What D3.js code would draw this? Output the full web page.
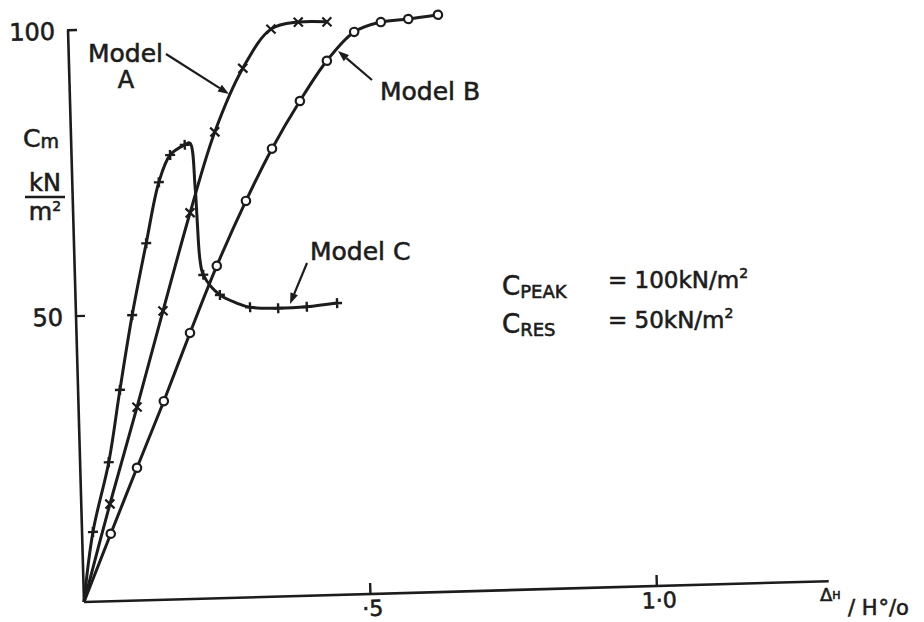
<!DOCTYPE html>
<html>
<head>
<meta charset="utf-8">
<script src="https://cdn.jsdelivr.net/npm/d3@7"></script>
<style>
  html, body { margin: 0; padding: 0; background: #fff; }
  text { font-family: "DejaVu Sans", sans-serif; fill: #1c1c1c; stroke: #1c1c1c; stroke-width: 0.6; }
</style>
</head>
<body>
<svg id="chart" width="924" height="622"></svg>
<script>
// ---- data ----
const xTicks = [0.5, 1.0];
const xTickLabels = ["·5", "1·0"];
const yTicks = [50, 100];
const yTickLabels = ["50", "100"];

// Model A (× markers)
const modelA_x = [0, 0.050, 0.102, 0.152, 0.204, 0.251, 0.303, 0.354, 0.402, 0.452];
const modelA_y = [0, 17.0, 33.8, 50.5, 67.5, 81.5, 92.5, 99.2, 100.3, 100.2];
const modelA_mark = [0, 1, 1, 1, 1, 1, 1, 1, 1, 1];

// Model B (○ markers)
const modelB_x = [0, 0.050, 0.099, 0.149, 0.198, 0.248, 0.302, 0.350, 0.401, 0.450, 0.499, 0.546, 0.594, 0.646];
const modelB_y = [0, 11.8, 23.2, 34.7, 46.5, 58.1, 69.3, 78.3, 86.5, 93.4, 98.3, 99.9, 100.3, 100.9];
const modelB_mark = [0, 1, 1, 1, 1, 1, 1, 1, 1, 1, 1, 1, 1, 1];

// Model C (+ markers)
const modelC_x = [0, 0.019, 0.050, 0.073, 0.098, 0.126, 0.151, 0.172, 0.198, 0.207, 0.214, 0.216, 0.219, 0.224, 0.252, 0.281, 0.304, 0.353, 0.403, 0.456];
const modelC_y = [0, 12.2, 24.3, 36.9, 49.9, 62.4, 73.0, 77.7, 79.4, 79.7, 72.0, 66.2, 59.2, 56.6, 53.0, 51.5, 50.7, 50.4, 50.5, 51.0];
const modelC_mark = [0, 1, 1, 1, 1, 1, 1, 1, 1, 0, 0, 0, 0, 1, 1, 0, 1, 1, 1, 1];

const seriesNames = ["Model A", "Model B", "Model C"];

// ---- drawing ----
const INK = "#1c1c1c";
const svg = d3.select("#chart");

// plot frame (the scan is slightly rotated)
const origin = [84, 602];
const tilt = -1.6;
const g = svg.append("g").attr("transform", `translate(${origin[0]},${origin[1]}) rotate(${tilt})`);

const x = d3.scaleLinear().domain([0, 1.30]).range([0, 745]);
const y = d3.scaleLinear().domain([0, 100]).range([0, -572]);

// axes
g.append("line").attr("x1", x(0)).attr("y1", 0).attr("x2", x(1.30)).attr("y2", 0)
  .attr("stroke", INK).attr("stroke-width", 2.6);
g.append("line").attr("x1", 0).attr("y1", y(0)).attr("x2", 0).attr("y2", y(100))
  .attr("stroke", INK).attr("stroke-width", 2.6);

xTicks.forEach((t, i) => {
  g.append("line").attr("x1", x(t)).attr("x2", x(t)).attr("y1", 0).attr("y2", -11)
    .attr("stroke", INK).attr("stroke-width", 2.4);
  g.append("text").attr("x", x(t) + 2).attr("y", 22).attr("text-anchor", "middle")
    .style("font-size", "22px").text(xTickLabels[i]);
});
yTicks.forEach((t, i) => {
  g.append("line").attr("x1", -1).attr("x2", 9).attr("y1", y(t)).attr("y2", y(t))
    .attr("stroke", INK).attr("stroke-width", 2.4);
  g.append("text").attr("x", -13).attr("y", y(t) + 9).attr("text-anchor", "end")
    .style("font-size", "24px").text(yTickLabels[i]);
});

// curves
const line = d3.line().x(d => x(d[0])).y(d => y(d[1])).curve(d3.curveCatmullRom.alpha(0.5));
function pts(xs, ys) { return xs.map((v, i) => [v, ys[i]]); }
const A = pts(modelA_x, modelA_y), B = pts(modelB_x, modelB_y), C = pts(modelC_x, modelC_y);

[A, B, C].forEach(p => {
  g.append("path").attr("d", line(p)).attr("fill", "none")
    .attr("stroke", INK).attr("stroke-width", 3).attr("stroke-linejoin", "round");
});

// markers
A.forEach((d, i) => {
  if (!modelA_mark[i]) return;
  const cx = x(d[0]), cy = y(d[1]), s = 4.5;
  g.append("path").attr("d", `M${cx - s},${cy - s}L${cx + s},${cy + s}M${cx - s},${cy + s}L${cx + s},${cy - s}`)
    .attr("stroke", INK).attr("stroke-width", 2.2).attr("fill", "none");
});
C.forEach((d, i) => {
  if (!modelC_mark[i]) return;
  const cx = x(d[0]), cy = y(d[1]), s = 5;
  g.append("path").attr("d", `M${cx - s},${cy}L${cx + s},${cy}M${cx},${cy - s}L${cx},${cy + s}`)
    .attr("stroke", INK).attr("stroke-width", 2.4).attr("fill", "none");
});
B.forEach((d, i) => {
  if (!modelB_mark[i]) return;
  g.append("circle").attr("cx", x(d[0])).attr("cy", y(d[1])).attr("r", 4.2)
    .attr("fill", "#fff").attr("stroke", INK).attr("stroke-width", 2.2);
});

// ---- annotations ----
function arrow(x1, y1, x2, y2) {
  const ang = Math.atan2(y2 - y1, x2 - x1), L = 11, W = 4;
  const bx = x2 - L * Math.cos(ang), by = y2 - L * Math.sin(ang);
  svg.append("line").attr("x1", x1).attr("y1", y1).attr("x2", bx).attr("y2", by)
    .attr("stroke", INK).attr("stroke-width", 2.2);
  svg.append("path").attr("d",
    `M${x2},${y2}L${bx - W * Math.sin(ang)},${by + W * Math.cos(ang)}L${bx + W * Math.sin(ang)},${by - W * Math.cos(ang)}Z`)
    .attr("fill", INK);
}

// Model A
svg.append("text").attr("x", 88).attr("y", 62).style("font-size", "25px").text("Model");
svg.append("text").attr("x", 126).attr("y", 88).attr("text-anchor", "middle").style("font-size", "24px").text("A");
arrow(166, 54, 229, 94);
// Model B
svg.append("text").attr("x", 380).attr("y", 100).style("font-size", "25px").text(seriesNames[1]);
arrow(372, 80, 338, 51);
// Model C
svg.append("text").attr("x", 310).attr("y", 260).style("font-size", "25px").text(seriesNames[2]);
arrow(307, 263, 290, 304);

// y-axis title
const yt = svg.append("text").attr("x", 23).attr("y", 147).style("font-size", "25px");
yt.append("tspan").text("C");
yt.append("tspan").style("font-size", "19px").attr("dy", 1).text("m");
svg.append("text").attr("x", 45).attr("y", 191).attr("text-anchor", "middle").style("font-size", "24px").text("kN");
svg.append("line").attr("x1", 25).attr("x2", 65).attr("y1", 197).attr("y2", 197).attr("stroke", INK).attr("stroke-width", 2.4);
const mt = svg.append("text").attr("x", 45).attr("y", 220).attr("text-anchor", "middle").style("font-size", "24px");
mt.append("tspan").text("m");
mt.append("tspan").attr("dy", -9).style("font-size", "14px").text("2");

// x-axis title
const xt = svg.append("text").attr("x", 820).attr("y", 601).style("font-size", "18px");
xt.append("tspan").text("Δ");
xt.append("tspan").style("font-size", "11px").attr("dy", -2).text("H");
const xt2 = svg.append("text").attr("x", 848).attr("y", 615).style("font-size", "21px");
xt2.append("tspan").text("/ H");
xt2.append("tspan").attr("dx", 1).text("°/o");

// constants box
const c1 = svg.append("text").attr("x", 502).attr("y", 295).style("font-size", "26px");
c1.append("tspan").text("C");
c1.append("tspan").style("font-size", "18px").attr("dy", 3).text("PEAK");
const c1b = svg.append("text").attr("x", 608).attr("y", 288).style("font-size", "23px");
c1b.append("tspan").text("= 100kN/m");
c1b.append("tspan").attr("dy", -10).style("font-size", "14px").text("2");

const c2 = svg.append("text").attr("x", 502).attr("y", 333).style("font-size", "26px");
c2.append("tspan").text("C");
c2.append("tspan").style("font-size", "18px").attr("dy", 3).text("RES");
const c2b = svg.append("text").attr("x", 608).attr("y", 328).style("font-size", "23px");
c2b.append("tspan").text("= 50kN/m");
c2b.append("tspan").attr("dy", -10).style("font-size", "14px").text("2");
</script>
</body>
</html>
